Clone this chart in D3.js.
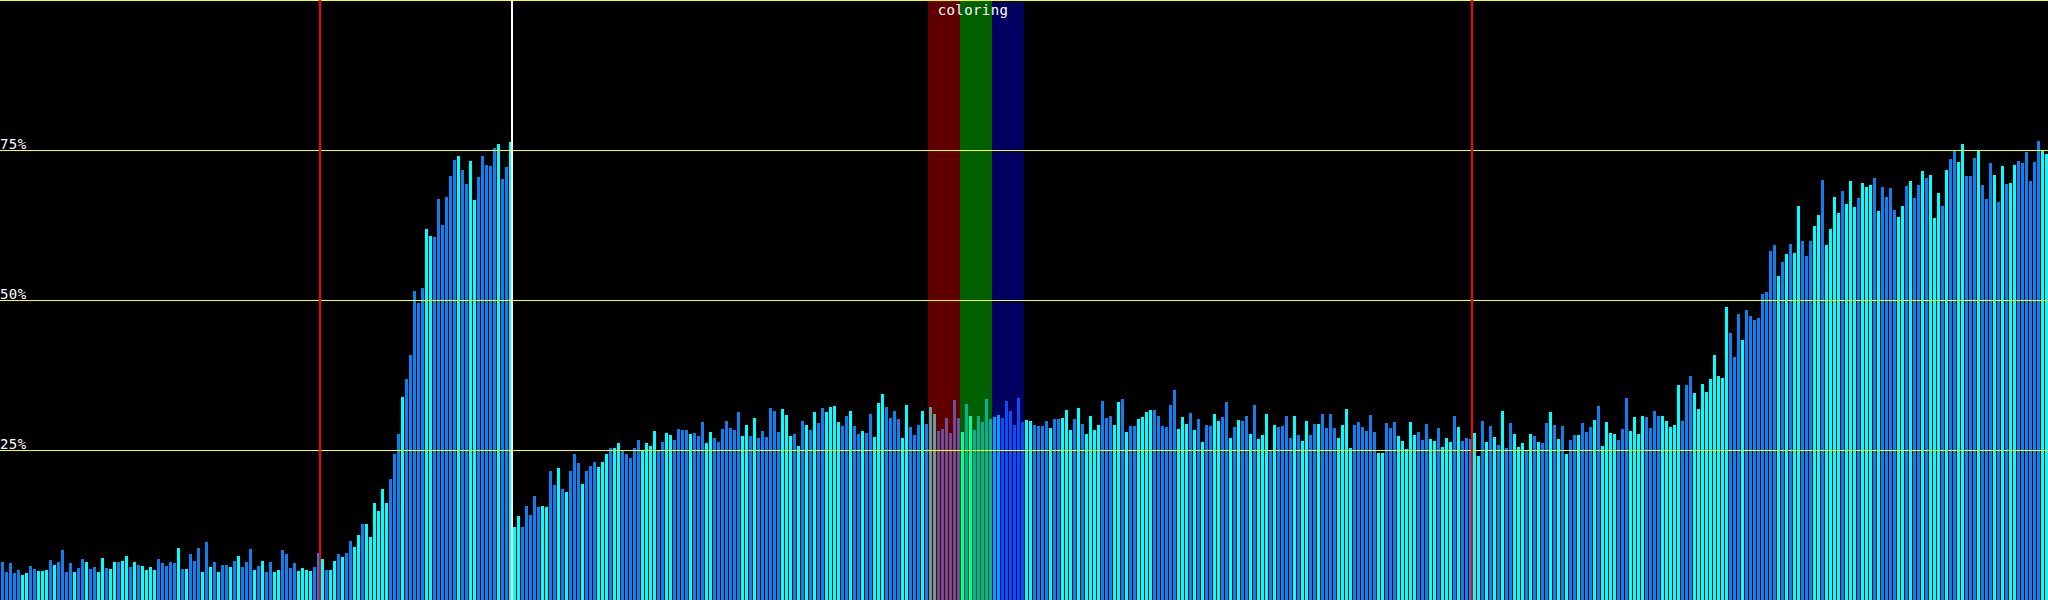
<!DOCTYPE html>
<html>
<head>
<meta charset="utf-8">
<script src="https://cdn.jsdelivr.net/npm/d3@7"></script>
<style>
  html, body { margin: 0; padding: 0; background: #000; }
  svg { display: block; }
</style>
</head>
<body>
<svg id="chart" width="2048" height="600"></svg>
<script>
// Percent values of each bar, left to right
const values = [
  6.3, 4.7, 6.1, 4.5, 5.0, 4.2, 4.5, 5.7, 5.2, 4.8,
  4.8, 5.0, 6.7, 5.9, 6.3, 8.4, 4.7, 6.1, 4.6, 5.4,
  6.8, 6.3, 5.2, 5.5, 4.7, 7.0, 5.4, 5.2, 6.3, 6.3,
  6.5, 7.3, 5.5, 6.3, 5.9, 5.7, 5.0, 5.5, 5.0, 6.8,
  6.1, 5.7, 6.3, 6.1, 8.7, 5.2, 5.2, 7.7, 6.5, 8.7,
  4.7, 9.6, 5.5, 6.3, 4.7, 5.9, 5.9, 5.5, 6.5, 7.3,
  5.5, 6.3, 8.5, 5.0,
  5.7, 6.5, 4.7, 6.3, 4.7, 5.0, 8.4, 7.7, 5.4, 6.1,
  4.8, 5.4, 5.0, 4.8, 5.5, 7.8, 6.8, 5.0, 5.0, 6.5,
  7.7, 7.1, 7.8, 9.8, 8.9, 10.8, 12.7, 12.7, 10.5, 16.1,
  14.9, 18.5, 16.1, 20.2, 24.4, 27.7, 33.9, 36.9, 40.8, 51.5,
  49.5, 52.0, 61.9, 60.7, 60.5, 66.8, 62.5, 67.2, 70.7, 73.3,
  74.0, 71.7, 69.3, 73.2, 66.6, 70.5, 74.0, 72.5, 72.3, 75.3,
  76.0, 70.2, 72.2, 76.3,
  12.2, 14.0, 12.2, 15.7, 14.2, 17.3, 15.5, 15.7, 15.5, 21.5,
  19.2, 22.0, 18.5, 18.0, 21.5, 24.3, 22.8, 19.3, 21.5, 22.3,
  23.0, 22.2, 23.0, 24.3, 25.3, 25.3, 26.2, 25.0, 24.3, 23.7,
  25.3, 26.7, 25.0, 26.2, 25.7, 28.2, 25.0, 26.3, 27.8, 27.5,
  26.7, 28.5, 28.3, 28.3, 27.7, 27.8, 27.3, 29.7, 26.2, 28.0,
  27.0, 26.3, 28.5, 29.8, 28.7, 28.3, 31.3, 27.3, 29.2, 27.3,
  30.3, 27.0, 28.2, 27.2, 32.0, 31.5, 28.0, 31.8, 30.8, 27.3,
  27.7, 25.7, 29.8, 29.2, 28.3, 31.3, 29.5, 32.0, 31.3, 32.2,
  32.3, 29.7, 29.0, 30.7, 31.5, 29.0, 27.7, 28.2, 27.8, 31.0,
  27.2, 32.8, 34.3, 32.2, 30.3, 31.5, 30.2, 27.0, 32.5, 28.8,
  27.5, 29.2, 31.5, 29.3, 32.2, 31.0, 28.2, 28.5, 30.3, 27.8,
  33.3, 30.3, 28.0, 32.7, 30.7, 28.3, 30.7, 29.7, 33.5, 30.2,
  30.5, 30.8, 30.3, 33.2, 31.5, 29.2, 33.7, 29.7, 30.0, 29.8,
  29.2, 29.0, 29.0, 29.8, 28.7, 30.2, 30.2, 30.3, 31.7, 28.3,
  30.2, 32.0, 29.3, 27.7, 30.7, 28.3, 29.2, 33.2, 30.3, 30.7,
  29.2, 33.0, 33.5, 28.0, 29.0, 29.0, 30.2, 30.5, 31.3, 31.7,
  31.7, 30.7, 29.0, 28.8, 32.5, 35.0, 28.5, 30.5, 29.3, 31.2,
  28.3, 30.2, 26.3, 29.2, 29.0, 31.0, 29.8, 30.5, 33.0, 27.0,
  28.8, 30.0, 29.8, 30.7, 27.7, 32.5, 26.8, 27.5, 31.0, 25.0,
  29.2, 28.8, 29.0, 30.7, 27.0, 30.7, 27.5, 26.5, 29.8, 27.5,
  29.3, 29.3, 31.0, 28.7, 31.0, 28.7, 27.0, 29.2, 31.8, 25.3,
  29.2, 29.7, 28.8, 28.2, 30.8, 28.0, 24.5, 24.5, 29.5, 28.7,
  29.7, 27.3, 26.5, 25.2, 29.7, 27.5, 28.0, 26.7, 29.3, 26.8,
  26.5, 28.7, 25.5, 27.0, 26.3, 30.7, 28.8, 26.5, 27.0, 26.8,
  27.8, 24.0, 29.8, 26.3, 29.0, 27.2, 25.8, 31.5, 25.3, 29.5,
  27.7, 25.5, 26.2, 25.0, 27.7, 27.3, 26.3, 26.2, 29.5, 31.3,
  29.2, 26.8, 29.0, 24.3, 26.7, 27.5, 27.5, 29.5, 28.0, 28.8,
  30.0, 32.3, 25.7, 29.7, 27.8, 27.7, 26.7, 28.5, 33.7, 28.2,
  30.5, 27.7, 30.7, 30.5, 28.7, 31.5, 30.7, 30.7,
  29.8, 28.8, 29.2, 35.8, 29.8, 35.8, 37.3, 34.5, 31.8, 36.0,
  34.7, 36.8, 40.8, 37.3, 37.0, 48.8, 44.5, 40.5, 47.7, 43.3,
  48.3, 47.3, 46.7, 47.0, 51.0, 51.3, 58.2, 59.2, 54.0, 56.3,
  57.7, 59.3, 57.8, 65.7, 59.8, 57.3, 59.8, 62.3, 64.2, 70.0,
  59.2, 61.8, 67.2, 64.5, 68.2, 66.0, 69.8, 65.5,
  67.0, 69.5, 68.8, 69.2, 70.3, 64.8, 68.8, 67.2, 68.7, 65.0,
  63.8, 65.7, 69.0, 69.8, 67.0, 69.2, 71.5, 70.3, 70.8, 63.7,
  67.8, 65.7, 71.7, 73.5, 74.8, 73.0, 76.0, 70.7, 70.7, 73.7,
  74.8, 69.2, 66.8, 72.8, 70.8, 66.3, 72.3, 69.3, 69.5, 72.5,
  73.2, 72.8, 74.7, 69.8, 73.0, 76.5, 74.8, 74.3
];

// Kind of each bar: b = blue, c = cyan
const kinds = (
  "bbbbbccbbc" + "ccbcbbbbcb" + "bcbbccbccb" + "ccbcbccccb" + "bbbbcbcbbb" + "cbcbcbbcbc" + "bbbc" +
  "bcbbccbbbb" + "ccccbbcbcc" + "bcbbccbccc" + "cccbbbcbbb" + "bbccbbbbbb" + "cbbccbbbbb" + "cbbc" +
  "ccbbbbbccb" + "bcbcbbbcbb" + "bcccbccbbb" + "bbccccbbcc" + "bbbbcbbbcc" + "bbbbbbbccb" + "cbbbbbbccc" + "bcbcbcbbcc" +
  "ccbbcbbcbb" + "cccbbbbccb" + "bbcbccbbbb" + "bbcbcbbbbb" + "ccbbbbbbcc" + "bbbbcbbccc" + "bcbccccbbb" + "ccbcbbcccc" +
  "bbbbbbcccb" + "cbcbbccbbc" + "bcbbcbcccb" + "cbbbbcbccb" + "bcbbbbcccc" + "bbbbbbccbb" + "bcccccbbbc" + "cbcccbcbbb" +
  "ccbcbcbcbb" + "cccbcbcbbc" + "bcbcbbcbbb" + "cbccccbbbc" + "cccbbbbc" +
  "ccccbbbccc" + "ccccccbbbc" + "bbbbbbbbcb" + "cbccbbbccb" + "ccccbccc" +
  "bcccbcbbbb" + "ccbcbbcbcc" + "cbcbbccbbb" + "cbbbcbcbcc" + "bbbbbbcc"
).split("");

const kindColors = { b: "#1080f0", c: "#00ffff" };

// Horizontal gridlines (percent) and which get a label
const gridTicks = [25, 50, 75, 100];
const labelTicks = [25, 50, 75];

// Vertical marker lines, placed before the bar with the given index
const markerIndex = [80, 128, 368];
const markerColor = ["#ff0000", "#ffffff", "#ff0000"];

// "coloring" bands: first bar index, bar count, overlay colour
const bandStart = [232, 240, 248];
const bandCount = [8, 8, 8];
const bandColor = ["rgb(255,0,0)", "rgb(0,255,0)", "rgb(0,0,255)"];
const bandTitle = "coloring";

const W = 2048, H = 600;
const svg = d3.select("#chart");

const x = d3.scaleBand()
  .domain(d3.range(values.length))
  .range([1, W])
  .paddingInner(0.25)
  .paddingOuter(0);
const y = d3.scaleLinear().domain([0, 100]).range([H, 0]);
const gap = x.step() - x.bandwidth();

svg.append("rect").attr("width", W).attr("height", H).attr("fill", "#000");

// bars
svg.append("g")
  .attr("shape-rendering", "crispEdges")
  .selectAll("rect")
  .data(values)
  .join("rect")
  .attr("x", (d, i) => x(i))
  .attr("width", x.bandwidth())
  .attr("y", d => Math.round(y(d)))
  .attr("height", d => H - Math.round(y(d)))
  .attr("fill", (d, i) => kindColors[kinds[i]]);

// bands overlay
const bandG = svg.append("g").attr("shape-rendering", "crispEdges");
bandStart.forEach((s, k) => {
  const x0 = x(s) - gap;
  const x1 = x(s + bandCount[k] - 1) + x.bandwidth();
  bandG.append("rect")
    .attr("x", x0).attr("y", 0)
    .attr("width", x1 - x0).attr("height", H)
    .attr("fill", bandColor[k])
    .attr("fill-opacity", 0.376);
});

// gridlines
const grid = svg.append("g").attr("shape-rendering", "crispEdges");
grid.selectAll("line")
  .data(gridTicks)
  .join("line")
  .attr("x1", 0).attr("x2", W)
  .attr("y1", d => Math.round(y(d)) + 0.5)
  .attr("y2", d => Math.round(y(d)) + 0.5)
  .attr("stroke", "#ffff00")
  .attr("stroke-width", 1);

// vertical markers
svg.append("g")
  .attr("shape-rendering", "crispEdges")
  .selectAll("line")
  .data(markerIndex)
  .join("line")
  .attr("x1", d => x(d) - gap / 2 - 0.5)
  .attr("x2", d => x(d) - gap / 2 - 0.5)
  .attr("y1", 0).attr("y2", H)
  .attr("stroke", (d, i) => markerColor[i])
  .attr("stroke-width", 2);

// labels
svg.append("g")
  .selectAll("text")
  .data(labelTicks)
  .join("text")
  .attr("x", 0)
  .attr("y", d => y(d) - 1)
  .attr("fill", "#fff")
  .attr("font-family", "'DejaVu Sans Mono', monospace")
  .attr("font-size", 14)
  .attr("letter-spacing", 0.4)
  .text(d => d + "%");

// band title
const bx0 = x(bandStart[0]) - gap;
const bx1 = x(bandStart[bandStart.length - 1] + bandCount[bandCount.length - 1] - 1) + x.bandwidth();
svg.append("text")
  .attr("x", (bx0 + bx1) / 2 - 3)
  .attr("y", 15)
  .attr("text-anchor", "middle")
  .attr("fill", "#fff")
  .attr("font-family", "'DejaVu Sans Mono', monospace")
  .attr("font-size", 14)
  .attr("letter-spacing", 0.4)
  .text(bandTitle);
</script>
</body>
</html>
